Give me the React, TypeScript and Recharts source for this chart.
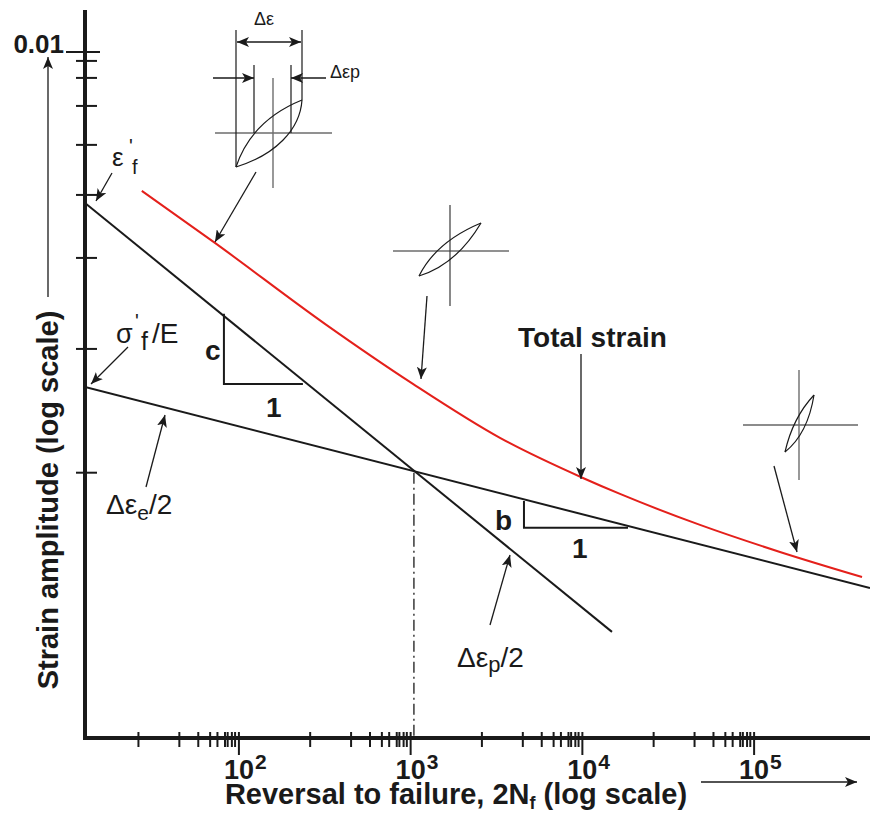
import React from 'react';
import { LineChart, Line, XAxis, YAxis } from 'recharts';

// axis ranges (log scales)
const X_DOMAIN = [12.7, 473000];
const Y_DOMAIN = [0.000725, 0.01165];

// tick values as they sit on the schematic axes
const xMajorTicks = [100, 1000, 10000, 100000];
const xMinorTicks = [
  26, 45, 58, 68, 75, 83, 86, 91, 95,
  260, 450, 580, 680, 750, 830, 860, 910, 950,
  2600, 4500, 5800, 6800, 7500, 8300, 8600, 9100, 9500,
  26000, 45000, 58000, 68000, 75000, 83000, 86000, 91000, 95000,
];
const yTicks = [0.01, 0.009662, 0.009054, 0.008134, 0.007008, 0.005787, 0.004548, 0.003211, 0.002];

// strain-life lines
const elasticLine = [
  { x: 12.7, y: 0.002777 },
  { x: 473000, y: 0.001287 },
];
const plasticLine = [
  { x: 12.7, y: 0.005613 },
  { x: 14870, y: 0.001088 },
];
const totalStrain = [
  { x: 27.2, y: 0.005876 },
  { x: 72.5, y: 0.004817 },
  { x: 316.8, y: 0.003534 },
  { x: 1031, y: 0.002809 },
  { x: 3313, y: 0.002285 },
  { x: 10080, y: 0.00196 },
  { x: 16560, y: 0.001844 },
  { x: 48400, y: 0.001638 },
  { x: 141500, y: 0.001477 },
  { x: 425000, y: 0.001342 },
];

// slope triangles and transition life marker
const slopeC = [
  { x: 81.8, y: 0.003672 },
  { x: 81.8, y: 0.002809 },
  { x: 235.9, y: 0.002809 },
];
const slopeB = [
  { x: 4570, y: 0.001795 },
  { x: 4570, y: 0.00162 },
  { x: 18440, y: 0.00162 },
];
const transition = [
  { x: 1045, y: 0.002 },
  { x: 1045, y: 0.000725 },
];

const FONT = '"Liberation Sans", Arial, sans-serif';
const INK = '#1a1a1a';
const RED = '#e4201b';

const XTick = (props: any) => {
  const { x, y, payload } = props;
  const v = payload.value;
  const major = xMajorTicks.includes(v);
  if (!major) {
    return <line x1={x} x2={x} y1={y - 6} y2={y + 9} stroke={INK} strokeWidth={2} />;
  }
  const exp = Math.round(Math.log10(v));
  return (
    <g>
      <line x1={x} x2={x} y1={y - 6} y2={y + 17} stroke={INK} strokeWidth={2} />
      <text x={x} y={y + 41} textAnchor="middle" fontSize={27} fontWeight="bold" fontFamily={FONT} fill={INK}>
        10
      </text>
      <text x={x + 16} y={y + 31} fontSize={21} fontWeight="bold" fontFamily={FONT} fill={INK}>
        {exp}
      </text>
    </g>
  );
};

const YTick = (props: any) => {
  const { x, y, payload } = props;
  if (payload.value === 0.01) {
    return (
      <g>
        <line x1={x - 19} x2={x + 15} y1={y} y2={y} stroke={INK} strokeWidth={2} />
        <text x={x - 21} y={y + 1} textAnchor="end" fontSize={26} fontWeight="bold" fontFamily={FONT} fill={INK}>
          0.01
        </text>
      </g>
    );
  }
  return <line x1={x - 9} x2={x + 12} y1={y} y2={y} stroke={INK} strokeWidth={2} />;
};

const Arrow = ({ x1, y1, x2, y2, both }: any) => (
  <line
    x1={x1}
    y1={y1}
    x2={x2}
    y2={y2}
    stroke={INK}
    strokeWidth={1.3}
    markerEnd="url(#head)"
    markerStart={both ? 'url(#head)' : undefined}
  />
);

const Overlay = () => (
  <svg
    width={870}
    height={815}
    style={{ position: 'absolute', left: 0, top: 0, pointerEvents: 'none' }}
    fontFamily={FONT}
    fill={INK}
  >
    <defs>
      <marker
        id="head"
        viewBox="0 0 12 10"
        refX={12}
        refY={5}
        markerWidth={12}
        markerHeight={10}
        markerUnits="userSpaceOnUse"
        orient="auto-start-reverse"
      >
        <path d="M0,0 L12,5 L0,10 L3,5 Z" fill={INK} />
      </marker>
    </defs>

    {/* axis titles */}
    <text x={58} y={500} transform="rotate(-90 58 500)" textAnchor="middle" fontSize={29} fontWeight="bold">
      Strain amplitude (log scale)
    </text>
    <Arrow x1={48} y1={297} x2={48} y2={57} />
    <text x={456} y={804} textAnchor="middle" fontSize={29} fontWeight="bold">
      Reversal to failure, 2N
      <tspan fontSize={18} dy={5}>f</tspan>
      <tspan dy={-5}> (log scale)</tspan>
    </text>
    <Arrow x1={701} y1={782} x2={857} y2={782} />

    {/* labels on the lines */}
    <text x={112} y={166} fontSize={26}>ε</text>
    <text x={129} y={153} fontSize={20}>'</text>
    <text x={132} y={174} fontSize={20}>f</text>
    <Arrow x1={112} y1={173} x2={96} y2={201} />

    <text x={116} y={343} fontSize={27}>σ</text>
    <text x={135} y={328} fontSize={20}>'</text>
    <text x={141} y={350} fontSize={25}>f</text>
    <text x={152} y={343} fontSize={28}>/E</text>
    <Arrow x1={128} y1={347} x2={91} y2={384} />

    <text x={205} y={360} fontSize={28} fontWeight="bold">c</text>
    <text x={266} y={417} fontSize={28} fontWeight="bold">1</text>
    <text x={495} y={530} fontSize={28} fontWeight="bold">b</text>
    <text x={572} y={558} fontSize={28} fontWeight="bold">1</text>

    <text x={106} y={514} fontSize={28}>
      Δε
      <tspan fontSize={21} dy={6}>e</tspan>
      <tspan dy={-6}>/2</tspan>
    </text>
    <Arrow x1={146} y1={487} x2={165} y2={415} />

    <text x={457} y={667} fontSize={28}>
      Δε
      <tspan fontSize={22} dy={5}>p</tspan>
      <tspan dy={-5}>/2</tspan>
    </text>
    <Arrow x1={490} y1={625} x2={510} y2={555} />

    <text x={518} y={347} fontSize={28} fontWeight="bold">Total strain</text>
    <Arrow x1={581} y1={354} x2={581} y2={479} />

    {/* hysteresis loop, low life */}
    <g fill="none">
      <line x1={215} y1={133} x2={332} y2={133} stroke="#6d6d6d" strokeWidth={1.4} />
      <line x1={273} y1={78} x2={273} y2={188} stroke="#6d6d6d" strokeWidth={1.4} />
      <line x1={236} y1={30} x2={236} y2={167} stroke={INK} strokeWidth={1.2} />
      <line x1={302} y1={30} x2={302} y2={100} stroke={INK} strokeWidth={1.2} />
      <line x1={254} y1={65} x2={254} y2={133} stroke={INK} strokeWidth={1.2} />
      <line x1={291} y1={65} x2={291} y2={133} stroke={INK} strokeWidth={1.2} />
      <path d="M236,167 C245,140 265,115 302,100" stroke={INK} strokeWidth={1.2} />
      <path d="M236,167 C275,155 300,130 302,100" stroke={INK} strokeWidth={1.2} />
    </g>
    <Arrow x1={237} y1={42} x2={301} y2={42} both />
    <Arrow x1={213} y1={78} x2={254} y2={78} />
    <Arrow x1={326} y1={78} x2={291} y2={78} />
    <text x={254} y={25} fontSize={18}>Δε</text>
    <text x={330} y={78} fontSize={18}>Δεp</text>
    <Arrow x1={256} y1={172} x2={215} y2={242} />

    {/* hysteresis loop, transition */}
    <g fill="none">
      <line x1={393} y1={251} x2={509} y2={251} stroke="#6d6d6d" strokeWidth={1.4} />
      <line x1={450} y1={205} x2={450} y2={306} stroke="#3a3a3a" strokeWidth={1.2} />
      <path d="M419,276 C428,258 445,238 481,223" stroke={INK} strokeWidth={1.2} />
      <path d="M419,276 C445,268 465,250 481,223" stroke={INK} strokeWidth={1.2} />
    </g>
    <Arrow x1={427} y1={296} x2={421} y2={379} />

    {/* hysteresis loop, high life */}
    <g fill="none">
      <line x1={743} y1={425} x2={858} y2={425} stroke={INK} strokeWidth={1.2} />
      <line x1={799} y1={370} x2={799} y2={480} stroke="#6d6d6d" strokeWidth={1.4} />
      <path d="M785,452 C790,430 800,410 814,395" stroke={INK} strokeWidth={1.2} />
      <path d="M785,452 C800,440 810,420 814,395" stroke={INK} strokeWidth={1.2} />
    </g>
    <Arrow x1={774} y1={466} x2={797} y2={552} />
  </svg>
);

export default function App() {
  return (
    <div style={{ position: 'absolute', left: 0, top: 0, width: 870, height: 815, background: '#fff' }}>
      <LineChart width={870} height={815} margin={{ top: 12, right: 0, bottom: 0, left: 0 }}>
        <XAxis
          type="number"
          dataKey="x"
          scale="log"
          domain={X_DOMAIN}
          allowDataOverflow
          ticks={[...xMinorTicks, ...xMajorTicks]}
          interval={0}
          tickSize={0}
          tickMargin={0}
          tickLine={false}
          tick={<XTick />}
          height={77}
          axisLine={{ stroke: INK, strokeWidth: 4, strokeLinecap: 'square' }}
        />
        <YAxis
          type="number"
          dataKey="y"
          scale="log"
          domain={Y_DOMAIN}
          allowDataOverflow
          ticks={yTicks}
          interval={0}
          tickSize={0}
          tickMargin={0}
          tickLine={false}
          tick={<YTick />}
          width={85}
          axisLine={{ stroke: INK, strokeWidth: 4, strokeLinecap: 'square' }}
        />
        <Line data={transition} dataKey="y" type="linear" stroke={INK} strokeWidth={1.3} strokeDasharray="11 4 2 4" dot={false} isAnimationActive={false} />
        <Line data={elasticLine} dataKey="y" type="linear" stroke={INK} strokeWidth={2} dot={false} isAnimationActive={false} />
        <Line data={plasticLine} dataKey="y" type="linear" stroke={INK} strokeWidth={2} dot={false} isAnimationActive={false} />
        <Line data={slopeC} dataKey="y" type="linear" stroke={INK} strokeWidth={2} dot={false} isAnimationActive={false} />
        <Line data={slopeB} dataKey="y" type="linear" stroke={INK} strokeWidth={2} dot={false} isAnimationActive={false} />
        <Line data={totalStrain} dataKey="y" type="monotone" stroke={RED} strokeWidth={2} dot={false} isAnimationActive={false} />
      </LineChart>
      <Overlay />
    </div>
  );
}
